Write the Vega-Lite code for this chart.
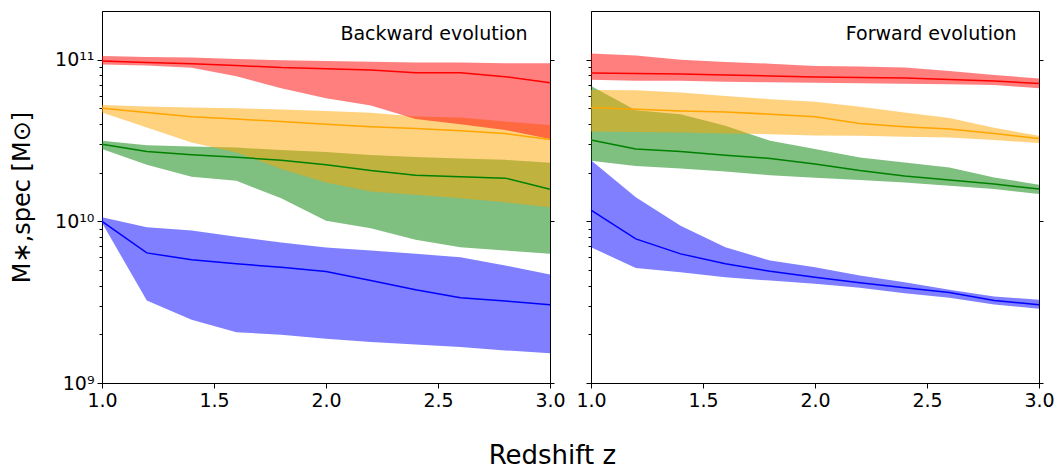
{
  "$schema": "https://vega.github.io/schema/vega-lite/v6.json",
  "background": "white",
  "padding": {"left": 10, "top": 10, "right": 10, "bottom": 0},
  "title": {"text": "Redshift z", "orient": "bottom", "anchor": "middle", "frame": "bounds", "offset": 32, "dx": 20, "fontSize": 26, "fontWeight": "normal", "font": "DejaVu Sans", "color": "#000"},
  "datasets": {
    "bands": [
      {"panel": "backward", "bin": "A", "z": 1.0, "lo": 9.8e9, "med": 1.0e10, "hi": 1.06e10},
      {"panel": "backward", "bin": "A", "z": 1.2, "lo": 3.24e9, "med": 6.38e9, "hi": 9.18e9},
      {"panel": "backward", "bin": "A", "z": 1.4, "lo": 2.46e9, "med": 5.78e9, "hi": 8.77e9},
      {"panel": "backward", "bin": "A", "z": 1.6, "lo": 2.06e9, "med": 5.46e9, "hi": 8.04e9},
      {"panel": "backward", "bin": "A", "z": 1.8, "lo": 1.99e9, "med": 5.2e9, "hi": 7.4e9},
      {"panel": "backward", "bin": "A", "z": 2.0, "lo": 1.88e9, "med": 4.89e9, "hi": 6.9e9},
      {"panel": "backward", "bin": "A", "z": 2.2, "lo": 1.79e9, "med": 4.31e9, "hi": 6.6e9},
      {"panel": "backward", "bin": "A", "z": 2.4, "lo": 1.73e9, "med": 3.77e9, "hi": 6.3e9},
      {"panel": "backward", "bin": "A", "z": 2.6, "lo": 1.67e9, "med": 3.37e9, "hi": 6.0e9},
      {"panel": "backward", "bin": "A", "z": 2.8, "lo": 1.59e9, "med": 3.21e9, "hi": 5.33e9},
      {"panel": "backward", "bin": "A", "z": 3.0, "lo": 1.53e9, "med": 3.05e9, "hi": 4.69e9},
      {"panel": "backward", "bin": "B", "z": 1.0, "lo": 2.8e10, "med": 3.0e10, "hi": 3.15e10},
      {"panel": "backward", "bin": "B", "z": 1.2, "lo": 2.24e10, "med": 2.7e10, "hi": 2.96e10},
      {"panel": "backward", "bin": "B", "z": 1.4, "lo": 1.89e10, "med": 2.58e10, "hi": 2.9e10},
      {"panel": "backward", "bin": "B", "z": 1.6, "lo": 1.78e10, "med": 2.49e10, "hi": 2.86e10},
      {"panel": "backward", "bin": "B", "z": 1.8, "lo": 1.39e10, "med": 2.39e10, "hi": 2.76e10},
      {"panel": "backward", "bin": "B", "z": 2.0, "lo": 1.01e10, "med": 2.24e10, "hi": 2.68e10},
      {"panel": "backward", "bin": "B", "z": 2.2, "lo": 9.06e9, "med": 2.06e10, "hi": 2.57e10},
      {"panel": "backward", "bin": "B", "z": 2.4, "lo": 7.68e9, "med": 1.93e10, "hi": 2.5e10},
      {"panel": "backward", "bin": "B", "z": 2.6, "lo": 6.91e9, "med": 1.89e10, "hi": 2.45e10},
      {"panel": "backward", "bin": "B", "z": 2.8, "lo": 6.6e9, "med": 1.85e10, "hi": 2.4e10},
      {"panel": "backward", "bin": "B", "z": 3.0, "lo": 6.3e9, "med": 1.58e10, "hi": 2.3e10},
      {"panel": "backward", "bin": "C", "z": 1.0, "lo": 4.71e10, "med": 5.0e10, "hi": 5.25e10},
      {"panel": "backward", "bin": "C", "z": 1.2, "lo": 3.8e10, "med": 4.71e10, "hi": 5.14e10},
      {"panel": "backward", "bin": "C", "z": 1.4, "lo": 3.07e10, "med": 4.43e10, "hi": 5.06e10},
      {"panel": "backward", "bin": "C", "z": 1.6, "lo": 2.67e10, "med": 4.29e10, "hi": 5.0e10},
      {"panel": "backward", "bin": "C", "z": 1.8, "lo": 2.11e10, "med": 4.14e10, "hi": 4.92e10},
      {"panel": "backward", "bin": "C", "z": 2.0, "lo": 1.74e10, "med": 3.99e10, "hi": 4.82e10},
      {"panel": "backward", "bin": "C", "z": 2.2, "lo": 1.53e10, "med": 3.85e10, "hi": 4.7e10},
      {"panel": "backward", "bin": "C", "z": 2.4, "lo": 1.46e10, "med": 3.75e10, "hi": 4.45e10},
      {"panel": "backward", "bin": "C", "z": 2.6, "lo": 1.39e10, "med": 3.63e10, "hi": 4.39e10},
      {"panel": "backward", "bin": "C", "z": 2.8, "lo": 1.31e10, "med": 3.49e10, "hi": 4.14e10},
      {"panel": "backward", "bin": "C", "z": 3.0, "lo": 1.22e10, "med": 3.21e10, "hi": 3.95e10},
      {"panel": "backward", "bin": "D", "z": 1.0, "lo": 9.35e10, "med": 9.8e10, "hi": 1.055e11},
      {"panel": "backward", "bin": "D", "z": 1.2, "lo": 9.2e10, "med": 9.6e10, "hi": 1.04e11},
      {"panel": "backward", "bin": "D", "z": 1.4, "lo": 8.9e10, "med": 9.45e10, "hi": 1.03e11},
      {"panel": "backward", "bin": "D", "z": 1.6, "lo": 7.9e10, "med": 9.2e10, "hi": 1.01e11},
      {"panel": "backward", "bin": "D", "z": 1.8, "lo": 6.65e10, "med": 8.93e10, "hi": 9.9e10},
      {"panel": "backward", "bin": "D", "z": 2.0, "lo": 5.77e10, "med": 8.8e10, "hi": 9.8e10},
      {"panel": "backward", "bin": "D", "z": 2.2, "lo": 5.2e10, "med": 8.64e10, "hi": 9.7e10},
      {"panel": "backward", "bin": "D", "z": 2.4, "lo": 4.29e10, "med": 8.3e10, "hi": 9.6e10},
      {"panel": "backward", "bin": "D", "z": 2.6, "lo": 3.99e10, "med": 8.3e10, "hi": 9.6e10},
      {"panel": "backward", "bin": "D", "z": 2.8, "lo": 3.67e10, "med": 7.85e10, "hi": 9.5e10},
      {"panel": "backward", "bin": "D", "z": 3.0, "lo": 3.23e10, "med": 7.2e10, "hi": 9.5e10},
      {"panel": "forward", "bin": "A", "z": 1.0, "lo": 6.91e9, "med": 1.175e10, "hi": 2.39e10},
      {"panel": "forward", "bin": "A", "z": 1.2, "lo": 5.15e9, "med": 7.79e9, "hi": 1.41e10},
      {"panel": "forward", "bin": "A", "z": 1.4, "lo": 4.84e9, "med": 6.29e9, "hi": 9.4e9},
      {"panel": "forward", "bin": "A", "z": 1.6, "lo": 4.51e9, "med": 5.46e9, "hi": 6.91e9},
      {"panel": "forward", "bin": "A", "z": 1.8, "lo": 4.3e9, "med": 4.91e9, "hi": 5.72e9},
      {"panel": "forward", "bin": "A", "z": 2.0, "lo": 4.11e9, "med": 4.51e9, "hi": 5.2e9},
      {"panel": "forward", "bin": "A", "z": 2.2, "lo": 3.88e9, "med": 4.17e9, "hi": 4.62e9},
      {"panel": "forward", "bin": "A", "z": 2.4, "lo": 3.59e9, "med": 3.88e9, "hi": 4.2e9},
      {"panel": "forward", "bin": "A", "z": 2.6, "lo": 3.37e9, "med": 3.63e9, "hi": 3.77e9},
      {"panel": "forward", "bin": "A", "z": 2.8, "lo": 3.06e9, "med": 3.24e9, "hi": 3.43e9},
      {"panel": "forward", "bin": "A", "z": 3.0, "lo": 2.88e9, "med": 3.05e9, "hi": 3.27e9},
      {"panel": "forward", "bin": "B", "z": 1.0, "lo": 2.37e10, "med": 3.18e10, "hi": 6.88e10},
      {"panel": "forward", "bin": "B", "z": 1.2, "lo": 2.2e10, "med": 2.8e10, "hi": 4.87e10},
      {"panel": "forward", "bin": "B", "z": 1.4, "lo": 2.12e10, "med": 2.7e10, "hi": 4.6e10},
      {"panel": "forward", "bin": "B", "z": 1.6, "lo": 2.03e10, "med": 2.56e10, "hi": 3.9e10},
      {"panel": "forward", "bin": "B", "z": 1.8, "lo": 1.93e10, "med": 2.45e10, "hi": 3.15e10},
      {"panel": "forward", "bin": "B", "z": 2.0, "lo": 1.86e10, "med": 2.26e10, "hi": 2.8e10},
      {"panel": "forward", "bin": "B", "z": 2.2, "lo": 1.8e10, "med": 2.06e10, "hi": 2.48e10},
      {"panel": "forward", "bin": "B", "z": 2.4, "lo": 1.74e10, "med": 1.91e10, "hi": 2.31e10},
      {"panel": "forward", "bin": "B", "z": 2.6, "lo": 1.66e10, "med": 1.8e10, "hi": 2.15e10},
      {"panel": "forward", "bin": "B", "z": 2.8, "lo": 1.585e10, "med": 1.7e10, "hi": 1.87e10},
      {"panel": "forward", "bin": "B", "z": 3.0, "lo": 1.476e10, "med": 1.585e10, "hi": 1.685e10},
      {"panel": "forward", "bin": "C", "z": 1.0, "lo": 3.59e10, "med": 5.06e10, "hi": 6.5e10},
      {"panel": "forward", "bin": "C", "z": 1.2, "lo": 3.57e10, "med": 4.94e10, "hi": 6.47e10},
      {"panel": "forward", "bin": "C", "z": 1.4, "lo": 3.54e10, "med": 4.82e10, "hi": 6.26e10},
      {"panel": "forward", "bin": "C", "z": 1.6, "lo": 3.49e10, "med": 4.75e10, "hi": 5.97e10},
      {"panel": "forward", "bin": "C", "z": 1.8, "lo": 3.46e10, "med": 4.6e10, "hi": 5.7e10},
      {"panel": "forward", "bin": "C", "z": 2.0, "lo": 3.4e10, "med": 4.43e10, "hi": 5.5e10},
      {"panel": "forward", "bin": "C", "z": 2.2, "lo": 3.38e10, "med": 4.03e10, "hi": 5.11e10},
      {"panel": "forward", "bin": "C", "z": 2.4, "lo": 3.33e10, "med": 3.85e10, "hi": 4.71e10},
      {"panel": "forward", "bin": "C", "z": 2.6, "lo": 3.3e10, "med": 3.72e10, "hi": 4.35e10},
      {"panel": "forward", "bin": "C", "z": 2.8, "lo": 3.18e10, "med": 3.49e10, "hi": 3.79e10},
      {"panel": "forward", "bin": "C", "z": 3.0, "lo": 3.05e10, "med": 3.25e10, "hi": 3.38e10},
      {"panel": "forward", "bin": "D", "z": 1.0, "lo": 7.5e10, "med": 8.28e10, "hi": 1.09e11},
      {"panel": "forward", "bin": "D", "z": 1.2, "lo": 7.4e10, "med": 8.2e10, "hi": 1.06e11},
      {"panel": "forward", "bin": "D", "z": 1.4, "lo": 7.4e10, "med": 8.16e10, "hi": 1.0e11},
      {"panel": "forward", "bin": "D", "z": 1.6, "lo": 7.3e10, "med": 8.05e10, "hi": 9.67e10},
      {"panel": "forward", "bin": "D", "z": 1.8, "lo": 7.25e10, "med": 7.93e10, "hi": 9.45e10},
      {"panel": "forward", "bin": "D", "z": 2.0, "lo": 7.2e10, "med": 7.82e10, "hi": 9.14e10},
      {"panel": "forward", "bin": "D", "z": 2.2, "lo": 7.15e10, "med": 7.77e10, "hi": 9.07e10},
      {"panel": "forward", "bin": "D", "z": 2.4, "lo": 7.1e10, "med": 7.7e10, "hi": 8.93e10},
      {"panel": "forward", "bin": "D", "z": 2.6, "lo": 7.05e10, "med": 7.55e10, "hi": 8.5e10},
      {"panel": "forward", "bin": "D", "z": 2.8, "lo": 6.98e10, "med": 7.39e10, "hi": 8.05e10},
      {"panel": "forward", "bin": "D", "z": 3.0, "lo": 6.66e10, "med": 7.11e10, "hi": 7.64e10}
    ]
  },
  "hconcat": [
    {
      "width": 448,
      "height": 372,
      "layer": [
        {
          "data": {"name": "bands"},
          "transform": [{"filter": "datum.panel === 'backward'"}],
          "mark": {"type": "area", "fillOpacity": 0.5},
          "encoding": {
            "x": {"field": "z", "type": "quantitative", "scale": {"domain": [1, 3], "nice": false, "zero": false},
                  "axis": {"values": [1, 1.5, 2, 2.5, 3], "format": ".1f", "title": null, "labelFlush": false, "labelOverlap": false}},
            "y": {"field": "lo", "type": "quantitative", "scale": {"type": "log", "domain": [1e9, 2e11], "nice": false},
                  "axis": {
                    "values": [1e9, 2e9, 3e9, 4e9, 5e9, 6e9, 7e9, 8e9, 9e9, 1e10, 2e10, 3e10, 4e10, 5e10, 6e10, 7e10, 8e10, 9e10, 1e11],
                    "labelExpr": "datum.value == 1e9 ? '10⁹' : datum.value == 1e10 ? '10¹⁰' : datum.value == 1e11 ? '10¹¹' : ''",
                    "tickSize": {"condition": {"test": "datum.value == 1e9 || datum.value == 1e10 || datum.value == 1e11", "value": 5}, "value": 3},
                    "labelOverlap": false,
                    "title": "M∗,spec [M⊙]",
                    "titleFontSize": 24,
                    "titlePadding": 20
                  }},
            "y2": {"field": "hi"},
            "color": {"field": "bin", "type": "nominal", "legend": null,
                      "scale": {"domain": ["A", "B", "C", "D"], "range": ["#0000ff", "#008000", "#ffa500", "#ff0000"]}}
          }
        },
        {
          "data": {"name": "bands"},
          "transform": [{"filter": "datum.panel === 'backward'"}],
          "mark": {"type": "line", "strokeWidth": 1.5},
          "encoding": {
            "x": {"field": "z", "type": "quantitative",
                  "axis": {"values": [1, 1.5, 2, 2.5, 3], "format": ".1f", "title": null, "labelFlush": false, "labelOverlap": false}},
            "y": {"field": "med", "type": "quantitative",
                  "axis": {"orient": "right", "values": [1e9, 1e10, 1e11], "labels": false, "tickSize": 4, "title": null}},
            "color": {"field": "bin", "type": "nominal", "legend": null}
          }
        },
        {
          "data": {"values": [{"label": "Backward evolution", "z": 2.9, "m": 1.44e11}]},
          "mark": {"type": "text", "align": "right", "baseline": "middle", "fontSize": 19, "font": "DejaVu Sans", "color": "#000"},
          "encoding": {
            "x": {"field": "z", "type": "quantitative",
                  "axis": {"values": [1, 1.5, 2, 2.5, 3], "format": ".1f", "title": null, "labelFlush": false, "labelOverlap": false}},
            "y": {"field": "m", "type": "quantitative", "axis": null},
            "text": {"field": "label"}
          }
        }
      ],
      "resolve": {"axis": {"y": "independent"}}
    },
    {
      "width": 448,
      "height": 372,
      "layer": [
        {
          "data": {"name": "bands"},
          "transform": [{"filter": "datum.panel === 'forward'"}],
          "mark": {"type": "area", "fillOpacity": 0.5},
          "encoding": {
            "x": {"field": "z", "type": "quantitative", "scale": {"domain": [1, 3], "nice": false, "zero": false},
                  "axis": {"values": [1, 1.5, 2, 2.5, 3], "format": ".1f", "title": null, "labelFlush": false, "labelOverlap": false}},
            "y": {"field": "lo", "type": "quantitative", "scale": {"type": "log", "domain": [1e9, 2e11], "nice": false},
                  "axis": {
                    "values": [1e9, 2e9, 3e9, 4e9, 5e9, 6e9, 7e9, 8e9, 9e9, 1e10, 2e10, 3e10, 4e10, 5e10, 6e10, 7e10, 8e10, 9e10, 1e11],
                    "labels": false,
                    "tickSize": {"condition": {"test": "datum.value == 1e9 || datum.value == 1e10 || datum.value == 1e11", "value": 5}, "value": 3},
                    "title": null
                  }},
            "y2": {"field": "hi"},
            "color": {"field": "bin", "type": "nominal", "legend": null,
                      "scale": {"domain": ["A", "B", "C", "D"], "range": ["#0000ff", "#008000", "#ffa500", "#ff0000"]}}
          }
        },
        {
          "data": {"name": "bands"},
          "transform": [{"filter": "datum.panel === 'forward'"}],
          "mark": {"type": "line", "strokeWidth": 1.5},
          "encoding": {
            "x": {"field": "z", "type": "quantitative",
                  "axis": {"values": [1, 1.5, 2, 2.5, 3], "format": ".1f", "title": null, "labelFlush": false, "labelOverlap": false}},
            "y": {"field": "med", "type": "quantitative",
                  "axis": {"orient": "right", "values": [1e9, 1e10, 1e11], "labels": false, "tickSize": 4, "title": null}},
            "color": {"field": "bin", "type": "nominal", "legend": null}
          }
        },
        {
          "data": {"values": [{"label": "Forward evolution", "z": 2.9, "m": 1.44e11}]},
          "mark": {"type": "text", "align": "right", "baseline": "middle", "fontSize": 19, "font": "DejaVu Sans", "color": "#000"},
          "encoding": {
            "x": {"field": "z", "type": "quantitative",
                  "axis": {"values": [1, 1.5, 2, 2.5, 3], "format": ".1f", "title": null, "labelFlush": false, "labelOverlap": false}},
            "y": {"field": "m", "type": "quantitative", "axis": null},
            "text": {"field": "label"}
          }
        }
      ],
      "resolve": {"axis": {"y": "independent"}}
    }
  ],
  "spacing": 41,
  "bounds": "flush",
  "config": {
    "font": "DejaVu Sans",
    "view": {"stroke": "#000", "strokeWidth": 1},
    "axis": {
      "grid": false,
      "domainColor": "#000",
      "domainWidth": 1,
      "tickColor": "#000",
      "tickWidth": 1,
      "tickSize": 5,
      "labelColor": "#000",
      "labelFont": "DejaVu Sans",
      "labelFontSize": 19,
      "labelPadding": 3,
      "titleFont": "DejaVu Sans",
      "titleFontSize": 26,
      "titleFontWeight": "normal",
      "titleColor": "#000"
    }
  }
}
